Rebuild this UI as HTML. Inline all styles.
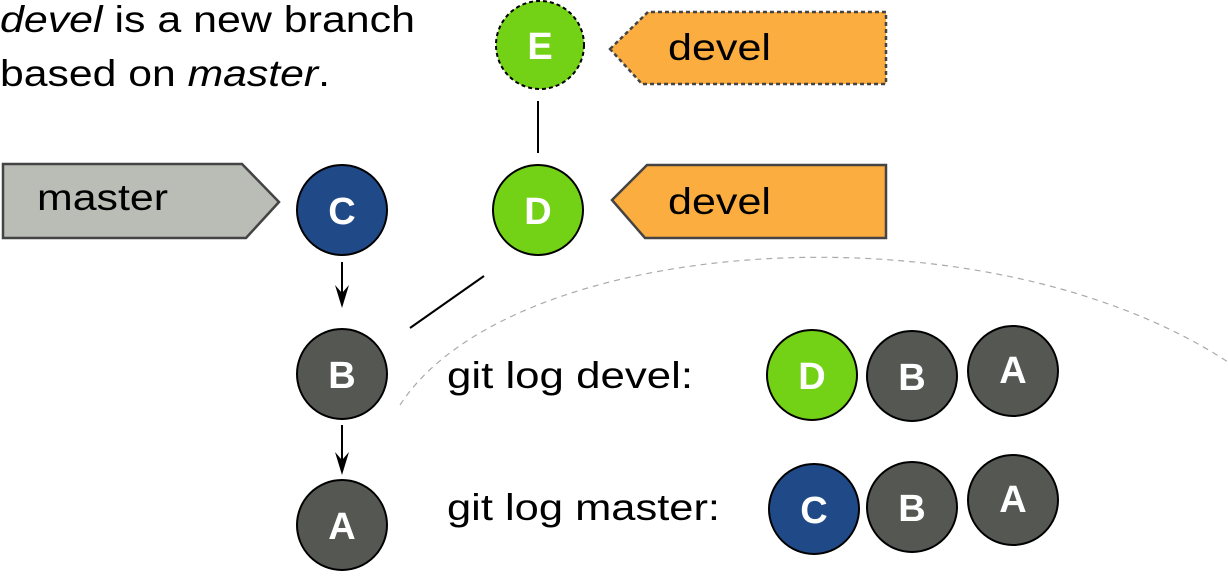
<!DOCTYPE html>
<html><head><style>body{margin:0;background:#fff}</style></head><body>
<svg width="1228" height="575" xmlns="http://www.w3.org/2000/svg" font-family="Liberation Sans, sans-serif">
<path d="M400,405 C510,235 980,200 1228,362" fill="none" stroke="#aaa" stroke-width="1.2" stroke-dasharray="6,5"/>
<text x="0" y="32" font-size="37" textLength="415" lengthAdjust="spacingAndGlyphs"><tspan font-style="italic">devel</tspan> is a new branch</text>
<text x="0" y="86" font-size="37" textLength="330" lengthAdjust="spacingAndGlyphs">based on <tspan font-style="italic">master</tspan>.</text>
<polygon points="3,164 242,164 279,202 246,238 3,238" fill="#babdb6" stroke="#444" stroke-width="2.5"/>
<text x="37" y="210" font-size="37" textLength="131" lengthAdjust="spacingAndGlyphs">master</text>
<polygon points="612,200 647,165 886,165 886,238 645,238" fill="#fbad3f" stroke="#444" stroke-width="2.5"/>
<text x="668" y="214" font-size="37" textLength="103" lengthAdjust="spacingAndGlyphs">devel</text>
<polygon points="610,49 648,12 886,12 886,84 642,84" fill="#fbad3f" stroke="#444" stroke-width="2.5" stroke-dasharray="4,3"/>
<text x="668" y="60" font-size="37" textLength="103" lengthAdjust="spacingAndGlyphs">devel</text>
<line x1="538" y1="101" x2="538" y2="153" stroke="#000" stroke-width="2"/>
<line x1="410" y1="328" x2="484" y2="276" stroke="#000" stroke-width="2"/>
<line x1="342" y1="262" x2="342" y2="300" stroke="#000" stroke-width="2"/>
<polygon points="335,285 342,308 349,285 342,293" fill="#000"/>
<line x1="342" y1="425" x2="342" y2="467" stroke="#000" stroke-width="2"/>
<polygon points="335,452 342,475 349,452 342,460" fill="#000"/>
<g stroke="#000" stroke-width="2">
<circle cx="540" cy="45" r="44" fill="#73d216" stroke-dasharray="4,3"/>
<circle cx="538" cy="210" r="45" fill="#73d216"/>
<circle cx="342" cy="210" r="45" fill="#204a87"/>
<circle cx="342" cy="374" r="45" fill="#555753"/>
<circle cx="342" cy="525" r="45" fill="#555753"/>
<circle cx="812" cy="375" r="45" fill="#73d216"/>
<circle cx="912" cy="376" r="45" fill="#555753"/>
<circle cx="1013" cy="371" r="45" fill="#555753"/>
<circle cx="814" cy="509" r="45" fill="#204a87"/>
<circle cx="912" cy="507" r="45" fill="#555753"/>
<circle cx="1013" cy="500" r="45" fill="#555753"/>
</g>
<g font-weight="bold" font-size="38" fill="#fff" text-anchor="middle">
<text x="540" y="59">E</text>
<text x="538" y="224">D</text>
<text x="342" y="224">C</text>
<text x="342" y="388">B</text>
<text x="342" y="539">A</text>
<text x="812" y="389">D</text>
<text x="912" y="390">B</text>
<text x="1013" y="383">A</text>
<text x="814" y="523">C</text>
<text x="912" y="521">B</text>
<text x="1013" y="512">A</text>
</g>
<text x="447" y="388" font-size="37" textLength="246" lengthAdjust="spacingAndGlyphs">git log devel:</text>
<text x="447" y="520" font-size="37" textLength="273" lengthAdjust="spacingAndGlyphs">git log master:</text>
</svg>
</body></html>
